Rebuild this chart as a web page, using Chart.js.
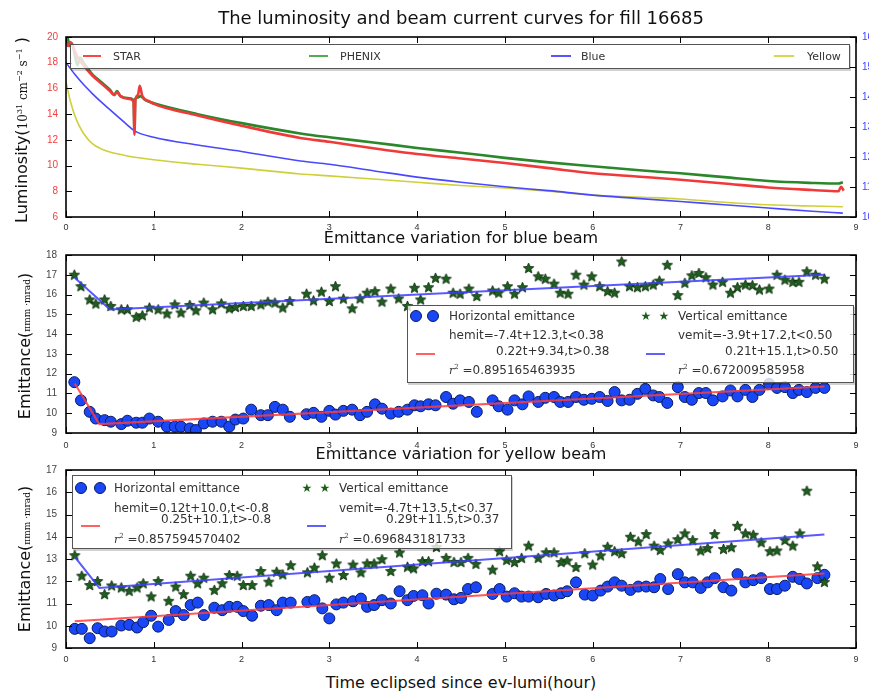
<!DOCTYPE html>
<html>
<head>
<meta charset="utf-8">
<script src="https://cdn.jsdelivr.net/npm/chart.js@4.4.1/dist/chart.umd.min.js"></script>
<style>
html, body { margin: 0; padding: 0; background: #fff; }
body { position: relative; width: 869px; height: 694px; overflow: hidden; font-family: "DejaVu Sans", sans-serif; }
canvas { position: absolute; left: 0; }
.txt { position: absolute; white-space: nowrap; color: #111; transform: translate(-50%, -50%); line-height: 1; }
.ttl { font-size: 18px; }
.sub { font-size: 16px; }
.ylab { position: absolute; white-space: nowrap; color: #111; font-size: 16px; line-height: 1;
        transform: translate(-50%, -50%) rotate(-90deg); }
.m { font-family: "DejaVu Serif", serif; font-size: 12px; }
.m sup { font-size: 8px; }
.m2 { font-family: "DejaVu Serif", serif; font-size: 9px; }
.lg { position: absolute; background: rgba(255,255,255,0.8); border: 1px solid #555; box-shadow: 1px 2px 0 rgba(0,0,0,0.18); }
.lg .it { position: absolute; white-space: nowrap; font-size: 12px; color: #333; transform: translateY(-50%); line-height: 1; }
.lg .sm { font-size: 11px; }
.lg .ln { position: absolute; height: 2px; }
.lg .dot { position: absolute; width: 10px; height: 10px; border-radius: 50%; background: #1a47f5; border: 1px solid #0a1a60; transform: translate(-50%, -50%); }
.lg .st { position: absolute; color: #1b5e1b; font-size: 12px; transform: translate(-50%, -50%); line-height: 1; }
.r2 { font-family: "DejaVu Serif", serif; font-style: italic; font-size: 11px; }
.r2 sup { font-size: 7px; font-style: normal; }
</style>
</head>
<body>
<canvas id="lumi" width="900" height="240" style="top:0"></canvas>
<canvas id="blueEm" width="900" height="215" style="top:240px"></canvas>
<canvas id="yellowEm" width="900" height="215" style="top:455px"></canvas>

<div class="txt ttl" style="left:461px;top:18px">The luminosity and beam current curves for fill 16685</div>
<div class="txt sub" style="left:461px;top:238px">Emittance variation for blue beam</div>
<div class="txt sub" style="left:461px;top:454px">Emittance variation for yellow beam</div>
<div class="txt sub" style="left:461px;top:683px">Time eclipsed since ev-lumi(hour)</div>

<div class="ylab" style="left:22px;top:130px">Luminosity(<span class="m">10<sup>31</sup> cm<sup>−2</sup> s<sup>−1</sup></span> )</div>
<div class="ylab" style="left:25px;top:346px">Emittance(<span class="m2">πmm ·mrad</span>)</div>
<div class="ylab" style="left:25px;top:559px">Emittance(<span class="m2">πmm ·mrad</span>)</div>

<!-- top legend -->
<div class="lg" style="left:70px;top:44px;width:778px;height:23px">
  <div class="ln" style="left:12px;top:10px;width:18px;background:#f44"></div>
  <div class="it sm" style="left:42px;top:11px">STAR</div>
  <div class="ln" style="left:238px;top:10px;width:19px;background:#55aa55"></div>
  <div class="it sm" style="left:269px;top:11px">PHENIX</div>
  <div class="ln" style="left:480px;top:10px;width:20px;background:#5555ff"></div>
  <div class="it sm" style="left:510px;top:11px">Blue</div>
  <div class="ln" style="left:703px;top:10px;width:20px;background:#d8d850"></div>
  <div class="it sm" style="left:736px;top:11px">Yellow</div>
</div>

<!-- blue beam legend -->
<div class="lg" style="left:407px;top:305px;width:445px;height:76px">
  <div class="dot" style="left:8px;top:10px"></div>
  <div class="dot" style="left:25px;top:10px"></div>
  <div class="it" style="left:41px;top:10px">Horizontal emittance</div>
  <div class="it" style="left:41px;top:29px">hemit=-7.4t+12.3,t&lt;0.38</div>
  <div class="it" style="left:88px;top:45px">0.22t+9.34,t&gt;0.38</div>
  <div class="ln" style="left:8px;top:47px;width:19px;background:#ff6060"></div>
  <div class="it" style="left:41px;top:64px"><span class="r2">r<sup>2</sup></span> =0.895165463935</div>
  <div class="st" style="left:238px;top:10px">★</div>
  <div class="st" style="left:256px;top:10px">★</div>
  <div class="it" style="left:270px;top:10px">Vertical emittance</div>
  <div class="it" style="left:270px;top:29px">vemit=-3.9t+17.2,t&lt;0.50</div>
  <div class="it" style="left:317px;top:45px">0.21t+15.1,t&gt;0.50</div>
  <div class="ln" style="left:238px;top:47px;width:19px;background:#6060ff"></div>
  <div class="it" style="left:270px;top:64px"><span class="r2">r<sup>2</sup></span> =0.672009585958</div>
</div>

<!-- yellow beam legend -->
<div class="lg" style="left:72px;top:475px;width:438px;height:72px">
  <div class="dot" style="left:8px;top:12px"></div>
  <div class="dot" style="left:27px;top:12px"></div>
  <div class="it" style="left:41px;top:12px">Horizontal emittance</div>
  <div class="it" style="left:41px;top:32px">hemit=0.12t+10.0,t&lt;-0.8</div>
  <div class="it" style="left:88px;top:43px">0.25t+10.1,t&gt;-0.8</div>
  <div class="ln" style="left:8px;top:49px;width:19px;background:#ff6060"></div>
  <div class="it" style="left:41px;top:63px"><span class="r2">r<sup>2</sup></span> =0.857594570402</div>
  <div class="st" style="left:234px;top:12px">★</div>
  <div class="st" style="left:252px;top:12px">★</div>
  <div class="it" style="left:266px;top:12px">Vertical emittance</div>
  <div class="it" style="left:266px;top:32px">vemit=-4.7t+13.5,t&lt;0.37</div>
  <div class="it" style="left:313px;top:43px">0.29t+11.5,t&gt;0.37</div>
  <div class="ln" style="left:234px;top:49px;width:19px;background:#6060ff"></div>
  <div class="it" style="left:266px;top:63px"><span class="r2">r<sup>2</sup></span> =0.696843181733</div>
</div>

<script>
/* ---- luminosity panel: hours vs 1e31 cm^-2 s^-1 ---- */
const starT    = [0, 0.02, 0.05, 0.1, 0.15, 0.2, 0.3, 0.4, 0.5, 0.55, 0.58, 0.62, 0.7, 0.77, 0.78, 0.79, 0.82, 0.84, 0.87, 0.95, 1.0, 1.5, 2.0, 2.67, 3.0, 3.5, 4.0, 4.5, 5.0, 5.5, 6.0, 6.5, 7.0, 7.5, 8.0, 8.5, 8.8, 8.83, 8.86];
const starLum  = [19.8, 19.3, 19.6, 18.9, 18.2, 17.8, 17.0, 16.4, 15.8, 15.5, 15.7, 15.4, 15.2, 15.0, 12.4, 15.1, 15.5, 16.2, 15.4, 15.0, 14.8, 13.9, 13.1, 12.15, 11.85, 11.35, 10.9, 10.55, 10.2, 9.8, 9.4, 9.15, 8.9, 8.6, 8.3, 8.1, 8.0, 8.35, 8.05];
const phenixT   = [0, 0.02, 0.04, 0.07, 0.1, 0.13, 0.16, 0.2, 0.3, 0.4, 0.5, 0.55, 0.58, 0.62, 0.7, 0.77, 0.78, 0.79, 0.82, 0.85, 0.9, 1.0, 1.5, 2.0, 2.67, 3.0, 3.5, 4.0, 4.5, 5.0, 5.5, 6.0, 6.5, 7.0, 7.5, 8.0, 8.5, 8.8, 8.85];
const phenixLum = [19.7, 19.9, 19.3, 19.5, 18.6, 17.8, 18.4, 18.0, 17.1, 16.5, 15.9, 15.5, 15.8, 15.4, 15.25, 15.1, 12.6, 15.2, 15.3, 15.4, 15.1, 14.85, 14.0, 13.3, 12.5, 12.2, 11.8, 11.37, 11.0, 10.6, 10.25, 9.95, 9.65, 9.4, 9.1, 8.8, 8.65, 8.6, 8.7];
const blueT     = [0, 0.1, 0.2, 0.3, 0.4, 0.5, 0.6, 0.7, 0.78, 1.0, 1.5, 2.0, 2.67, 3.0, 3.5, 4.0, 4.5, 5.0, 5.5, 6.0, 6.5, 7.0, 7.5, 8.0, 8.5, 8.85];
const blueCurr  = [18.0, 17.1, 16.3, 15.6, 14.95, 14.35, 13.75, 13.15, 12.7, 12.2, 11.6, 11.1, 10.35, 10.1, 9.6, 9.1, 8.7, 8.35, 8.05, 7.7, 7.45, 7.2, 6.95, 6.7, 6.45, 6.3];
const yellowT    = [0, 0.05, 0.1, 0.15, 0.2, 0.3, 0.4, 0.5, 0.7, 1.0, 1.5, 2.0, 2.67, 3.0, 3.5, 4.0, 4.5, 5.0, 5.5, 6.0, 6.5, 7.0, 7.5, 8.0, 8.5, 8.85];
const yellowCurr = [16.5, 15.0, 13.9, 13.1, 12.5, 11.7, 11.3, 11.05, 10.75, 10.45, 10.1, 9.8, 9.35, 9.2, 8.95, 8.7, 8.45, 8.25, 8.0, 7.7, 7.55, 7.4, 7.15, 6.95, 6.85, 6.8];
const lumTicks  = [6, 8, 10, 12, 14, 16, 18, 20];
const currTicks = [100, 110, 120, 130, 140, 150, 160];
const hourTicks = [0, 1, 2, 3, 4, 5, 6, 7, 8, 9];

/* ---- blue beam emittance (pi mm mrad) ---- */
const blueBeamT = [0.095, 0.17, 0.27, 0.34, 0.44, 0.51, 0.63, 0.70, 0.80, 0.87, 0.95, 1.05, 1.15, 1.24, 1.31, 1.41, 1.48, 1.57, 1.67, 1.77, 1.86, 1.93, 2.02, 2.11, 2.22, 2.30, 2.38, 2.47, 2.55, 2.74, 2.82, 2.91, 3.0, 3.07, 3.16, 3.26, 3.35, 3.43, 3.52, 3.60, 3.70, 3.79, 3.89, 3.97, 4.04, 4.13, 4.21, 4.33, 4.41,
  4.49, 4.59, 4.68, 4.86, 4.93, 5.03, 5.11, 5.20, 5.27, 5.38, 5.46, 5.56, 5.63, 5.72, 5.81, 5.90, 5.99, 6.08, 6.17, 6.25, 6.33, 6.42, 6.51, 6.60, 6.69, 6.76, 6.85, 6.97, 7.05, 7.13, 7.21, 7.29, 7.37, 7.48, 7.57, 7.65, 7.74, 7.82, 7.90, 8.01, 8.10, 8.19, 8.28, 8.35, 8.44, 8.54, 8.64];
const hemitBlue = [11.57, 10.65, 10.07, 9.73, 9.65, 9.57, 9.45, 9.62, 9.52, 9.52, 9.73, 9.57, 9.32, 9.32, 9.32, 9.23, 9.15, 9.48, 9.57, 9.57, 9.32, 9.68, 9.73, 10.18, 9.9, 9.9, 10.32, 10.18, 9.82, 9.95, 10.02, 9.82, 10.12, 9.93, 10.12, 10.18, 9.9, 10.07, 10.45, 10.23, 9.98, 10.07, 10.18, 10.4, 10.35, 10.45, 10.4, 10.82, 10.48,
  10.65, 10.57, 10.07, 10.65, 10.35, 10.18, 10.65, 10.45, 10.85, 10.57, 10.78, 10.82, 10.57, 10.57, 10.82, 10.68, 10.73, 10.82, 10.62, 11.07, 10.65, 10.68, 10.98, 11.23, 10.9, 10.82, 10.52, 11.32, 10.82, 10.68, 11.02, 11.02, 10.65, 10.85, 11.15, 10.85, 11.18, 10.82, 11.18, 11.48, 11.28, 11.32, 11.02, 11.18, 11.07, 11.28, 11.28];
const vemitBlue = [16.98, 16.4, 15.73, 15.52, 15.73, 15.4, 15.23, 15.23, 14.85, 14.93, 15.32, 15.23, 15.02, 15.48, 15.07, 15.45, 15.18, 15.57, 15.23, 15.53, 15.28, 15.35, 15.4, 15.4, 15.48, 15.62, 15.57, 15.32, 15.65, 16.02, 15.68, 16.12, 15.65, 16.4, 15.77, 15.28, 15.78, 16.07, 16.15, 15.62, 16.28, 15.78, 15.4, 16.32, 15.73, 16.35, 16.82, 16.78, 16.07,
  16.02, 16.28, 15.9, 16.18, 16.07, 16.4, 16.02, 16.35, 17.32, 16.9, 16.78, 16.53, 16.07, 16.02, 16.98, 16.48, 16.9, 16.4, 16.15, 16.07, 17.65, 16.4, 16.35, 16.4, 16.48, 16.68, 17.48, 15.95, 16.57, 16.95, 17.07, 16.85, 16.48, 16.62, 16.07, 16.35, 16.48, 16.45, 16.23, 16.28, 16.98, 16.73, 16.62, 16.62, 17.15, 16.98, 16.78];
const blueHFitT = [0.1, 0.38, 8.64];
const blueHFit  = [11.5, 9.45, 11.35];
const blueVFitT = [0.1, 0.5, 8.64];
const blueVFit  = [16.85, 15.25, 17.0];
const blueEmTicks = [9, 10, 11, 12, 13, 14, 15, 16, 17, 18];

/* ---- yellow beam emittance ---- */
const yellowBeamT = [0.10, 0.18, 0.27, 0.36, 0.44, 0.52, 0.63, 0.72, 0.81, 0.88, 0.97, 1.05, 1.17, 1.25, 1.34, 1.42, 1.50, 1.57, 1.69, 1.78, 1.86, 1.95, 2.02, 2.12, 2.22, 2.31, 2.40, 2.47, 2.56, 2.75, 2.83, 2.92, 3.0, 3.08, 3.16, 3.27, 3.36, 3.43, 3.51, 3.60, 3.70, 3.80, 3.89, 3.96, 4.06, 4.13, 4.22, 4.33, 4.42,
  4.50, 4.58, 4.67, 4.86, 4.94, 5.02, 5.11, 5.19, 5.27, 5.38, 5.47, 5.56, 5.64, 5.71, 5.81, 5.91, 6.0, 6.09, 6.17, 6.25, 6.33, 6.43, 6.52, 6.61, 6.70, 6.77, 6.86, 6.97, 7.05, 7.14, 7.23, 7.31, 7.39, 7.49, 7.58, 7.65, 7.74, 7.83, 7.92, 8.02, 8.10, 8.19, 8.28, 8.36, 8.44, 8.56, 8.64];
const hemitYellow = [9.86, 9.86, 9.44, 9.89, 9.74, 9.74, 10.01, 10.04, 9.92, 10.16, 10.45, 9.96, 10.26, 10.66, 10.48, 10.93, 11.04, 10.48, 10.81, 10.7, 10.85, 10.85, 10.66, 10.45, 10.9, 10.93, 10.7, 11.04, 11.04, 11.07, 11.15, 10.78, 10.33, 10.96, 11.04, 11.1, 11.22, 10.85, 10.93, 11.15, 11.0, 11.55, 11.15, 11.34, 11.37, 11.0, 11.44, 11.4, 11.19,
  11.25, 11.65, 11.73, 11.43, 11.65, 11.31, 11.46, 11.31, 11.31, 11.28, 11.43, 11.36, 11.46, 11.55, 11.95, 11.4, 11.36, 11.58, 11.76, 11.95, 11.8, 11.61, 11.76, 11.76, 11.73, 12.1, 11.65, 12.32, 11.95, 11.95, 11.7, 11.95, 12.14, 11.73, 11.58, 12.32, 11.95, 12.05, 12.14, 11.65, 11.65, 11.8, 12.2, 12.1, 11.9, 12.14, 12.29];
const vemitYellow = [13.15, 12.23, 11.81, 11.99, 11.4, 11.79, 11.7, 11.55, 11.7, 11.89, 11.3, 11.99, 11.1, 11.74, 11.4, 12.23, 11.89, 12.14, 11.59, 11.89, 12.26, 12.23, 11.81, 11.81, 12.44, 11.96, 12.41, 12.29, 12.7, 12.38, 12.59, 13.15, 12.14, 12.78, 12.26, 12.73, 12.38, 12.78, 12.78, 12.97, 12.44, 13.27, 12.63, 12.56, 12.88, 12.88, 13.52, 13.03, 12.85,
  12.84, 13.03, 12.76, 12.5, 13.33, 12.94, 12.84, 13.03, 13.58, 13.03, 13.28, 13.28, 12.84, 12.91, 12.62, 13.24, 12.73, 13.14, 13.53, 13.33, 13.24, 13.98, 13.77, 14.1, 13.58, 13.39, 13.68, 13.87, 14.13, 13.83, 13.36, 13.47, 14.1, 13.43, 13.51, 14.47, 14.13, 14.07, 13.73, 13.33, 13.36, 13.83, 13.58, 14.13, 16.05, 12.65, 11.95];
const yellowHFitT = [0.1, 8.64];
const yellowHFit  = [10.2, 12.35];
const yellowVFitT = [0.1, 0.38, 8.64];
const yellowVFit  = [13.1, 11.7, 14.1];
const yellowEmTicks = [9, 10, 11, 12, 13, 14, 15, 16, 17];

const zip = (xs, ys) => xs.map((x, i) => ({ x: x, y: ys[i] }));

// matplotlib-like filled star marker
function starMarker(r) {
    const s = Math.ceil(r * 2 + 2);
    const c = document.createElement("canvas");
    c.width = c.height = s;
    const g = c.getContext("2d");
    g.beginPath();
    for (let i = 0; i < 10; i++) {
        const a = -Math.PI / 2 + i * Math.PI / 5;
        const rr = i % 2 ? r * 0.45 : r;
        g.lineTo(s / 2 + rr * Math.cos(a), s / 2 + rr * Math.sin(a));
    }
    g.closePath();
    g.fillStyle = "#1d601d";
    g.fill();
    g.strokeStyle = "#0b250b";
    g.lineWidth = 0.8;
    g.stroke();
    return c;
}
const STAR = starMarker(5.5);

/* frame + inward ticks on all four sides, like the old matplotlib style */
const mplFrame = {
    id: "mplFrame",
    afterDatasetsDraw(chart) {
        const { ctx, chartArea: a, scales } = chart;
        const L = 6;
        ctx.save();
        ctx.strokeStyle = "#000";
        ctx.lineWidth = 1;
        ctx.beginPath();
        scales.x.ticks.forEach(t => {
            const px = Math.round(scales.x.getPixelForValue(t.value)) + 0.5;
            ctx.moveTo(px, a.bottom); ctx.lineTo(px, a.bottom - L);
            ctx.moveTo(px, a.top);    ctx.lineTo(px, a.top + L);
        });
        scales.y.ticks.forEach(t => {
            const py = Math.round(scales.y.getPixelForValue(t.value)) + 0.5;
            ctx.moveTo(a.left, py); ctx.lineTo(a.left + L, py);
            if (!scales.y2) { ctx.moveTo(a.right, py); ctx.lineTo(a.right - L, py); }
        });
        if (scales.y2) {
            scales.y2.ticks.forEach(t => {
                const py = Math.round(scales.y2.getPixelForValue(t.value)) + 0.5;
                ctx.moveTo(a.right, py); ctx.lineTo(a.right - L, py);
            });
        }
        ctx.stroke();
        ctx.lineWidth = 1.6;
        ctx.strokeRect(a.left, a.top, a.right - a.left, a.bottom - a.top);
        ctx.restore();
    }
};

function xAxis(h, pad) {
    return {
        type: "linear", min: hourTicks[0], max: hourTicks[hourTicks.length - 1],
        grid: { display: false, drawTicks: false }, border: { display: false },
        ticks: { stepSize: 1, color: "#333", font: { size: 9 }, padding: pad, maxRotation: 0 },
        afterFit: s => { s.height = h; }
    };
}
function yAxis(ticks, color, pad) {
    return {
        type: "linear", min: ticks[0], max: ticks[ticks.length - 1],
        grid: { display: false, drawTicks: false }, border: { display: false },
        ticks: { stepSize: ticks[1] - ticks[0], color: color, font: { size: 10 }, padding: pad },
        afterFit: s => { s.width = 66; }
    };
}
const baseOpts = {
    responsive: false,
    animation: false,
    events: [],
    plugins: { legend: { display: false }, tooltip: { enabled: false } },
};

/* Luminosity + currents */
new Chart(document.getElementById("lumi"), {
    type: "scatter",
    data: {
        datasets: [
            { label: "STAR",   data: zip(starT, starLum),     showLine: true, borderColor: "#f03a3a", borderWidth: 2.6, pointRadius: 0, cubicInterpolationMode: "monotone" },
            { label: "PHENIX", data: zip(phenixT, phenixLum), showLine: true, borderColor: "#2a872a", borderWidth: 2.6, pointRadius: 0, cubicInterpolationMode: "monotone" },
            { label: "Blue",   data: zip(blueT, blueCurr),    showLine: true, borderColor: "#4848ff", borderWidth: 1.6, pointRadius: 0, cubicInterpolationMode: "monotone" },
            { label: "Yellow", data: zip(yellowT, yellowCurr), showLine: true, borderColor: "#cfcf3a", borderWidth: 1.6, pointRadius: 0, cubicInterpolationMode: "monotone" },
        ]
    },
    options: Object.assign({}, baseOpts, {
        layout: { padding: { top: 37, left: 0, right: 0, bottom: 0 } },
        scales: {
            x: xAxis(23, 5),
            y: yAxis(lumTicks, "#f04040", 8),
            y2: {
                type: "linear", position: "right", min: currTicks[0], max: currTicks[currTicks.length - 1],
                grid: { display: false, drawTicks: false }, border: { display: false },
                ticks: { stepSize: 10, color: "#4040ff", font: { size: 10 }, padding: 6 },
                afterFit: s => { s.width = 44; }
            }
        }
    }),
    plugins: [mplFrame]
});

function emittanceChart(id, t, h, v, hfT, hf, vfT, vf, ticks, xpad) {
    new Chart(document.getElementById(id), {
        type: "scatter",
        data: {
            datasets: [
                { label: "h fit", data: zip(hfT, hf), showLine: true, borderColor: "rgba(255,60,60,0.85)", borderWidth: 2, pointRadius: 0, order: 0 },
                { label: "v fit", data: zip(vfT, vf), showLine: true, borderColor: "rgba(60,60,255,0.85)", borderWidth: 2, pointRadius: 0, order: 0 },
                { label: "Horizontal emittance", data: zip(t, h), pointRadius: 5.5, pointBackgroundColor: "#1a47f5", pointBorderColor: "#0a1a60", pointBorderWidth: 1, order: 2 },
                { label: "Vertical emittance",   data: zip(t, v), pointStyle: STAR, order: 1 },
            ]
        },
        options: Object.assign({}, baseOpts, {
            layout: { padding: { top: 13, left: 0, right: 44, bottom: 0 } },
            scales: { x: xAxis(22, xpad), y: yAxis(ticks, "#444", 9) }
        }),
        plugins: [mplFrame]
    });
}

emittanceChart("blueEm", blueBeamT, hemitBlue, vemitBlue, blueHFitT, blueHFit, blueVFitT, blueVFit, blueEmTicks, 7);
emittanceChart("yellowEm", yellowBeamT, hemitYellow, vemitYellow, yellowHFitT, yellowHFit, yellowVFitT, yellowVFit, yellowEmTicks, 6);
</script>
</body>
</html>
